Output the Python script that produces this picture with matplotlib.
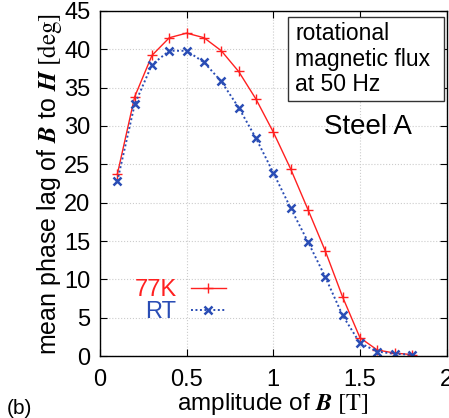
import matplotlib
matplotlib.use("Agg")
import matplotlib.pyplot as plt
from matplotlib.patches import Rectangle

plt.rcParams['font.family'] = ['Liberation Sans', 'DejaVu Sans']
plt.rcParams['mathtext.fontset'] = 'stix'

B = [0.1, 0.2, 0.3, 0.4, 0.5, 0.6, 0.7, 0.8, 0.9, 1.0, 1.1, 1.2, 1.3, 1.4, 1.5, 1.6, 1.7, 1.8]
lag_77K = [23.7, 33.8, 39.2, 41.5, 42.1, 41.5, 39.8, 37.1, 33.5, 29.2, 24.4, 19.1, 13.7, 7.7, 2.4, 0.8, 0.4, 0.2]
lag_RT = [22.8, 32.8, 38.0, 39.8, 39.8, 38.3, 35.8, 32.4, 28.4, 23.9, 19.3, 14.9, 10.3, 5.3, 1.7, 0.6, 0.3, 0.2]

xticks = [0, 0.5, 1, 1.5, 2]
xticklabels = ['0', '0.5', '1', '1.5', '2']
yticks = [0, 5, 10, 15, 20, 25, 30, 35, 40, 45]

red = '#ff2020'
blue = '#2a4db5'

fig = plt.figure(figsize=(4.49, 4.18), dpi=100)
ax = fig.add_axes([0.2227, 0.148, 0.772, 0.826])

ax.plot(B, lag_77K, color=red, lw=1.0, marker='+', ms=7, mew=1.0, label='77K')
ax.plot(B, lag_RT, color=blue, lw=1.4, ls=(0, (1, 1.3)), marker='x', ms=5.5, mew=1.8, label='RT')

ax.set_xlim(0, 2)
ax.set_ylim(0, 45)
ax.set_xticks(xticks)
ax.set_xticklabels(xticklabels)
ax.set_yticks(yticks)
ax.tick_params(direction='in', top=True, right=True, labelsize=17, length=5, pad=7, width=0.8)
ax.tick_params(axis='x', pad=9)
ax.grid(True, color='#cccccc', ls=':', lw=0.8)
for s in ax.spines.values():
    s.set_linewidth(1.0)

ax.set_xlabel(r'amplitude of $\mathbfit{B}\ \mathrm{[T]}$', fontsize=17.5, labelpad=0)
ax.set_ylabel(r'mean phase lag of $\mathbfit{B}$ to $\mathbfit{H}\ \mathrm{[deg]}$', fontsize=18, labelpad=0)

ax.add_patch(Rectangle((0.543, 0.739), 0.448, 0.244, transform=ax.transAxes,
                       fc='white', ec='#333333', lw=1.0, zorder=5))
ax.text(0.563, 0.968, 'rotational\nmagnetic flux\nat 50 Hz', transform=ax.transAxes,
        fontsize=16.5, va='top', ha='left', linespacing=1.15, zorder=6)
ax.text(0.645, 0.665, 'Steel A', transform=ax.transAxes, fontsize=20, va='center', ha='left')

leg = ax.legend(loc='upper left', bbox_to_anchor=(0.072, 0.25), frameon=False, markerfirst=False,
                fontsize=17, labelcolor='linecolor', handlelength=1.5, handletextpad=0.6,
                labelspacing=0.0, borderaxespad=0)

fig.text(0.015, 0.0, '(b)', fontsize=15, ha='left', va='bottom')

fig.savefig('out.png', dpi=100)
